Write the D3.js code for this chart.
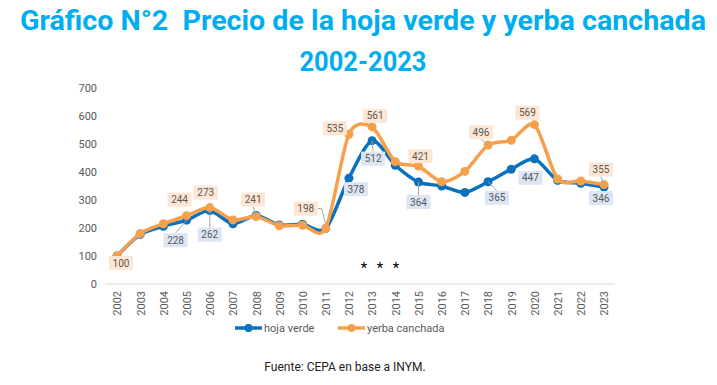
<!DOCTYPE html>
<meta charset="utf-8">
<style>
body { margin: 0; background: #fff; }
text { font-family: Roboto, "Liberation Sans", sans-serif; }
.title { font-weight: bold; fill: #00adef; font-size: 27px; white-space: pre; }
.tick text { fill: #595959; font-size: 11px; }
.lbl { font-size: 10px; fill: #595959; }
</style>
<body>
<script src="https://cdn.jsdelivr.net/npm/d3@7"></script>
<script>

var years = d3.range(2002, 2024);
var hojaVerde = [100, 177, 206, 228, 262, 215, 245, 211, 213, 198, 378, 512, 424, 364, 350, 327, 365, 410, 447, 370, 360, 346];
var yerbaCanchada = [100, 180, 215, 244, 273, 229, 241, 208, 210, 198, 535, 561, 437, 421, 365, 402, 496, 513, 569, 375, 368, 355];
var yTicks = [0, 100, 200, 300, 400, 500, 600, 700];

// which points carry a value box, and where the box sits relative to the point
var boxes = [
  { s: "y", year: 2002, dx: 4, dy: 7 },
  { s: "y", year: 2005, dx: -7, dy: -16 },
  { s: "y", year: 2006, dx: -4, dy: -15 },
  { s: "y", year: 2008, dx: -3, dy: -17, lead: true },
  { s: "y", year: 2011, dx: -20, dy: -20, lead: true },
  { s: "y", year: 2012, dx: -14, dy: -6 },
  { s: "y", year: 2013, dx: 3, dy: -11 },
  { s: "y", year: 2015, dx: 2, dy: -10 },
  { s: "y", year: 2018, dx: -7, dy: -13, lead: true },
  { s: "y", year: 2020, dx: -7, dy: -12 },
  { s: "y", year: 2023, dx: -3, dy: -15, lead: true },
  { s: "h", year: 2005, dx: -11, dy: 20, lead: true },
  { s: "h", year: 2006, dx: 0, dy: 24, lead: true },
  { s: "h", year: 2012, dx: 7, dy: 11 },
  { s: "h", year: 2013, dx: 1, dy: 18, lead: true },
  { s: "h", year: 2015, dx: 0, dy: 20, lead: true },
  { s: "h", year: 2018, dx: 9, dy: 16, lead: true },
  { s: "h", year: 2020, dx: -4, dy: 19 },
  { s: "h", year: 2023, dx: -3, dy: 11 }
];

var width = 717, height = 385;
var blue = "#0b70bd", orange = "#f7a04b";

var svg = d3.select("body").append("svg")
    .attr("width", width)
    .attr("height", height);

svg.append("text").attr("class", "title")
    .attr("x", 363).attr("y", 30)
    .attr("text-anchor", "middle")
    .attr("textLength", 686).attr("lengthAdjust", "spacingAndGlyphs")
    .text("Gráfico N°2  Precio de la hoja verde y yerba canchada");

svg.append("text").attr("class", "title")
    .attr("x", 363).attr("y", 71)
    .attr("text-anchor", "middle")
    .attr("textLength", 127).attr("lengthAdjust", "spacingAndGlyphs")
    .text("2002-2023");

var x = d3.scalePoint().domain(years).range([117, 604]);
var y = d3.scaleLinear().domain([0, 700]).range([284, 88]);

// y axis, labels only
var yAxis = svg.append("g")
    .attr("transform", "translate(97,0)")
    .call(d3.axisLeft(y).tickValues(yTicks).tickSize(0).tickPadding(0));
yAxis.select(".domain").remove();

// x axis
var xAxis = svg.append("g")
    .attr("transform", "translate(0,284)")
    .call(d3.axisBottom(x).tickSize(0).tickPadding(0));
xAxis.select(".domain").attr("d", "M105,0H615").attr("stroke", "#d9d9d9");
xAxis.selectAll(".tick text")
    .attr("transform", "rotate(-90)")
    .attr("text-anchor", "end")
    .attr("x", -7).attr("y", 0).attr("dy", "0.35em");

var line = d3.line()
    .x(function(d, i) { return x(years[i]); })
    .y(function(d) { return y(d); })
    .curve(d3.curveCardinal.tension(0.2));

var series = [
  { key: "h", name: "hoja verde", values: hojaVerde, color: blue },
  { key: "y", name: "yerba canchada", values: yerbaCanchada, color: orange }
];

series.forEach(function(s) {
  svg.append("path")
      .attr("d", line(s.values))
      .attr("fill", "none")
      .attr("stroke", s.color)
      .attr("stroke-width", 3.5);
  svg.append("g").selectAll("circle")
      .data(s.values)
    .enter().append("circle")
      .attr("cx", function(d, i) { return x(years[i]); })
      .attr("cy", function(d) { return y(d); })
      .attr("r", 4.5)
      .attr("fill", s.color);
});

// value boxes
boxes.forEach(function(b) {
  var s = b.s == "h" ? series[0] : series[1];
  var v = s.values[years.indexOf(b.year)];
  var px = x(b.year), py = y(v);
  var cx = px + b.dx, cy = py + b.dy;
  if (b.lead) {
    var ex = b.s == "y" && b.year == 2011 ? cx + 12 : cx;
    var ey = b.s == "y" && b.year == 2011 ? cy : cy + (b.dy < 0 ? 7 : -7);
    var d = b.year == 2011 && b.s == "y"
      ? "M" + ex + "," + ey + "H" + (px - 4) + "L" + px + "," + (py - 4)
      : "M" + ex + "," + ey + "L" + px + "," + py;
    svg.append("path").attr("d", d).attr("fill", "none")
        .attr("stroke", "#a6a6a6").attr("stroke-width", 1);
  }
  svg.append("rect")
      .attr("x", cx - 12).attr("y", cy - 7)
      .attr("width", 24).attr("height", 14)
      .attr("fill", b.s == "h" ? "#dbe5f3" : "#fde6d4");
  svg.append("text").attr("class", "lbl")
      .attr("x", cx).attr("y", cy)
      .attr("dy", "0.35em")
      .attr("text-anchor", "middle")
      .text(v);
});

// three asterisks under 2012-2014
svg.append("g").selectAll("text")
    .data([0, 1, 2])
  .enter().append("text")
    .attr("x", function(d) { return 364 + d * 16; })
    .attr("y", 273)
    .attr("text-anchor", "middle")
    .attr("font-size", 15).attr("fill", "#000")
    .text("*");

// legend
var legend = svg.append("g").selectAll("g")
    .data(series)
  .enter().append("g")
    .attr("transform", function(d, i) { return "translate(" + (235 + i * 103) + ",328)"; });
legend.append("line")
    .attr("x1", 0).attr("x2", 27)
    .attr("stroke", function(d) { return d.color; })
    .attr("stroke-width", 3.5);
legend.append("circle")
    .attr("cx", 13.5).attr("r", 4)
    .attr("fill", function(d) { return d.color; });
legend.append("text")
    .attr("x", 29).attr("dy", "0.35em")
    .attr("font-size", 11).attr("fill", "#595959")
    .text(function(d) { return d.name; });

svg.append("text")
    .attr("x", 345).attr("y", 371)
    .attr("text-anchor", "middle")
    .attr("font-size", 12).attr("fill", "#222")
    .text("Fuente: CEPA en base a INYM.");

</script>
</body>
